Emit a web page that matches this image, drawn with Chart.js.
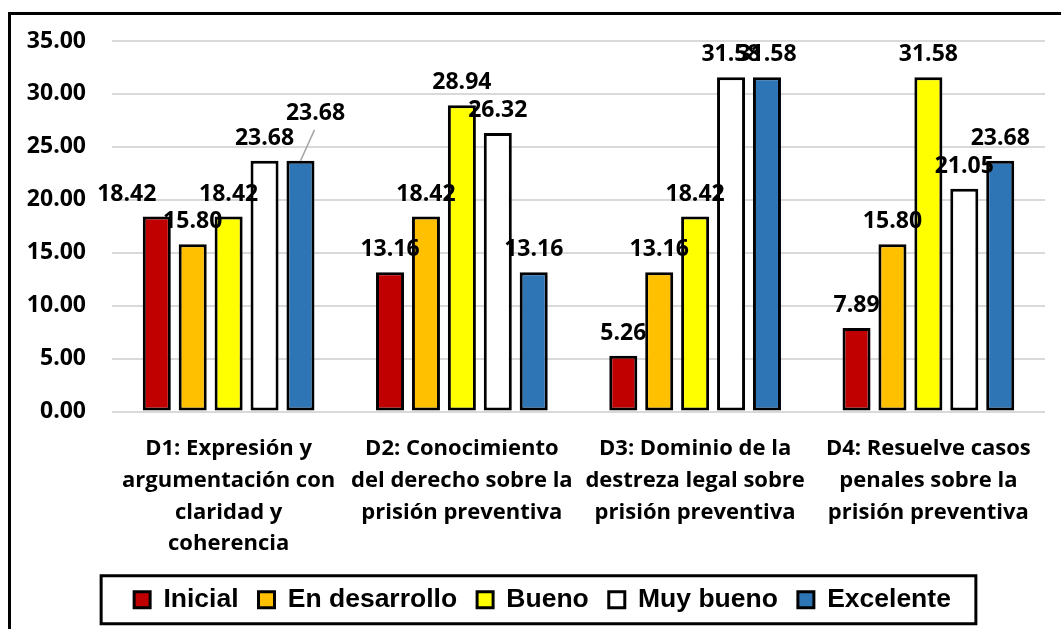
<!DOCTYPE html>
<html>
<head>
<meta charset="utf-8">
<script src="https://cdn.jsdelivr.net/npm/chart.js@4.4.1/dist/chart.umd.min.js"></script>
<style>
    body { margin: 0; background: #fff; overflow: hidden; }
    #wrap { position: relative; width: 1061px; height: 629px; }
    #frame { position: absolute; left: 8px; top: 12px; width: 1100px; height: 700px; border: 3px solid #000; }
    #chart { position: absolute; left: 0; top: 0; }
</style>
</head>
<body>
<div id="wrap">
    <div id="frame"></div>
    <canvas id="chart" width="1061" height="629"></canvas>
</div>
<script>
// Categories (x axis labels, split in lines)
const categories = [
    ['D1: Expresión y', 'argumentación con', 'claridad y', 'coherencia'],
    ['D2: Conocimiento', 'del derecho sobre la', 'prisión preventiva'],
    ['D3: Dominio de la', 'destreza legal sobre', 'prisión preventiva'],
    ['D4: Resuelve casos', 'penales sobre la', 'prisión preventiva']
];

// Series values (%)
const inicial = [18.42, 13.16, 5.26, 7.89];
const enDesarrollo = [15.80, 18.42, 13.16, 15.80];
const bueno = [18.42, 28.94, 18.42, 31.58];
const muyBueno = [23.68, 26.32, 31.58, 21.05];
const excelente = [23.68, 13.16, 31.58, 23.68];

const seriesNames = ['Inicial', 'En desarrollo', 'Bueno', 'Muy bueno', 'Excelente'];
const seriesColors = ['#C00000', '#FFC000', '#FFFF00', '#FFFFFF', '#2E75B6'];

// y axis ticks
const yMin = 0;
const yMax = 35;
const yStep = 5;

// Draw the value above every bar (two labels were moved by hand in the original)
const valueLabels = {
    id: 'valueLabels',
    afterDatasetsDraw(chart) {
        const ctx = chart.ctx;
        ctx.save();
        ctx.font = 'bold 23px "Open Sans"';
        ctx.fillStyle = '#000';
        ctx.textAlign = 'center';
        ctx.textBaseline = 'bottom';
        chart.data.datasets.forEach((ds, i) => {
            chart.getDatasetMeta(i).data.forEach((bar, j) => {
                let x = bar.x;
                let y = bar.y - 11;
                if (i === 0 && j === 0) {
                    x -= 30;
                }
                if (i === 4 && j === 0) {
                    // leader line
                    ctx.strokeStyle = '#A6A6A6';
                    ctx.lineWidth = 1.5;
                    ctx.beginPath();
                    ctx.moveTo(bar.x, bar.y);
                    ctx.lineTo(bar.x + 14, bar.y - 31);
                    ctx.stroke();
                    x += 15;
                    y -= 25;
                }
                ctx.fillText(ds.data[j].toFixed(2), x, y);
            });
        });
        ctx.restore();
    }
};

// Legend sits a bit right of the centre, with a box around it
const legendBox = {
    id: 'legendBox',
    afterLayout(chart) {
        chart.legend.left += 20;
        chart.legend.right += 20;
    },
    afterDraw(chart) {
        const boxes = chart.legend.legendHitBoxes;
        if (!boxes.length) return;
        const left = Math.min(...boxes.map(b => b.left)) - 33;
        const right = Math.max(...boxes.map(b => b.left + b.width)) + 25;
        const mid = boxes[0].top + boxes[0].height / 2;
        const ctx = chart.ctx;
        ctx.save();
        ctx.strokeStyle = '#000';
        ctx.lineWidth = 3;
        ctx.strokeRect(left, mid - 24, right - left, 48);
        ctx.restore();
    }
};

const ctx = document.getElementById('chart').getContext('2d');
const chart = new Chart(ctx, {
    type: 'bar',
    data: {
        labels: categories,
        datasets: [inicial, enDesarrollo, bueno, muyBueno, excelente].map((values, i) => ({
            label: seriesNames[i],
            data: values,
            backgroundColor: seriesColors[i],
            borderColor: '#000',
            borderWidth: 3,
            borderSkipped: false,
            categoryPercentage: 0.77,
            barPercentage: 0.78
        }))
    },
    options: {
        responsive: false,
        animation: false,
        devicePixelRatio: 1,
        layout: { padding: { top: 41, right: 16, bottom: 6, left: 0 } },
        plugins: {
            tooltip: { enabled: false },
            legend: {
                position: 'bottom',
                labels: {
                    color: '#000',
                    font: { family: 'Liberation Sans', size: 26.5, weight: 'bold' },
                    boxWidth: 16,
                    boxHeight: 16,
                    padding: 20
                }
            }
        },
        scales: {
            x: {
                grid: { display: false },
                border: { display: false },
                ticks: {
                    color: '#000',
                    font: { family: 'Open Sans', size: 22, weight: 'bold', lineHeight: 1.45 },
                    maxRotation: 0,
                    autoSkip: false,
                    padding: 13
                },
                afterFit: function(scale) { scale.height = 155; }
            },
            y: {
                min: yMin,
                max: yMax,
                grid: { color: '#D9D9D9', lineWidth: 2, drawTicks: false },
                border: { display: false },
                ticks: {
                    stepSize: yStep,
                    color: '#000',
                    font: { family: 'Open Sans', size: 23, weight: 'bold' },
                    padding: 26,
                    callback: function(value) { return value.toFixed(2); }
                },
                afterFit: function(scale) { scale.width = 112; }
            }
        }
    },
    plugins: [valueLabels, legendBox]
});
</script>
</body>
</html>
